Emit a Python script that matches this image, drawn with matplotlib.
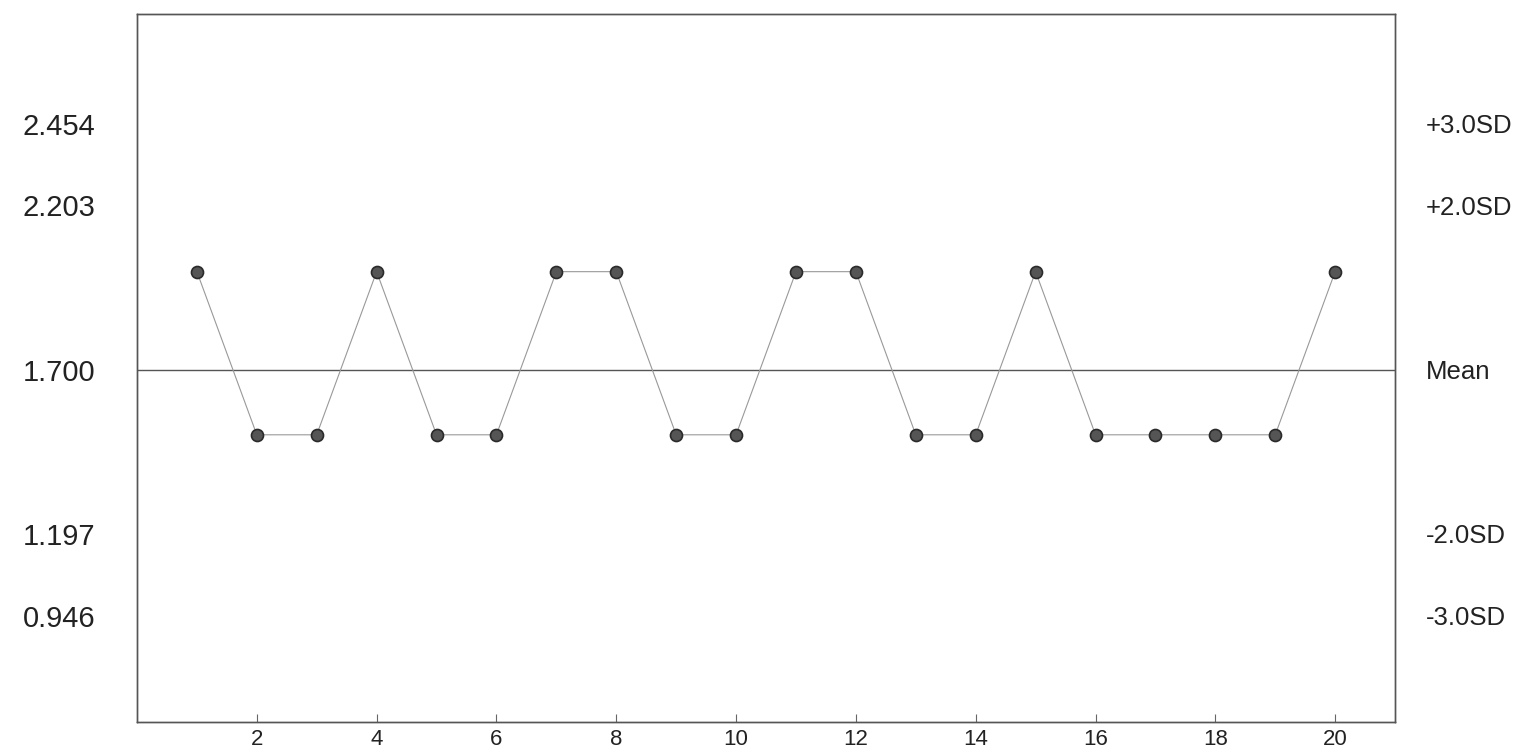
import numpy as np
import matplotlib.pyplot as plt

plt.rcParams['font.family'] = ['Liberation Sans', 'DejaVu Sans']

# run number and measured value
runs = list(range(1, 21))
values = [2.0, 1.5, 1.5, 2.0, 1.5, 1.5, 2.0, 2.0, 1.5, 1.5,
          2.0, 2.0, 1.5, 1.5, 2.0, 1.5, 1.5, 1.5, 1.5, 2.0]

mean_val = 1.700
limit_vals = [0.946, 1.197, 1.700, 2.203, 2.454]
limit_text = ['0.946', '1.197', '1.700', '2.203', '2.454']
limit_names = ['-3.0SD', '-2.0SD', 'Mean', '+2.0SD', '+3.0SD']
xticks = [2, 4, 6, 8, 10, 12, 14, 16, 18, 20]

fig = plt.figure(figsize=(15.29, 7.52), dpi=100)
ax = fig.add_axes([0.0896, 0.040, 0.8228, 0.9415])

ax.axhline(mean_val, color='#555555', lw=1.0, zorder=1)
ax.plot(runs, values, color='#999999', lw=0.8, zorder=2)
ax.scatter(runs, values, s=75, color='#555555', edgecolors='#2a2a2a',
           linewidths=1.2, zorder=3)

ax.set_xlim(0, 21)
ax.set_ylim(0.62, 2.79)

ax.set_xticks(xticks)
ax.set_xticklabels([str(t) for t in xticks], fontsize=16, color='#222222')
ax.tick_params(axis='x', direction='in', length=6, width=0.8,
               color='#666666', pad=5)

ax.set_yticks(limit_vals)
ax.set_yticklabels(limit_text, fontsize=21, color='#222222')
ax.tick_params(axis='y', length=0, pad=30)

ax2 = ax.twinx()
ax2.set_position(ax.get_position())
ax2.set_ylim(ax.get_ylim())
ax2.set_yticks(limit_vals)
ax2.set_yticklabels(limit_names, fontsize=18.5, color='#222222')
ax2.tick_params(axis='y', length=0, pad=22)

for a in (ax, ax2):
    for s in a.spines.values():
        s.set_color('#555555')
        s.set_linewidth(1.0)

fig.savefig('out.png', dpi=100)
